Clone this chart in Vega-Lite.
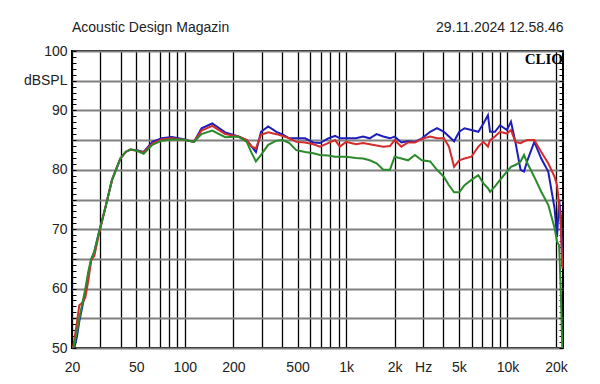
{
  "$schema": "https://vega.github.io/schema/vega-lite/v6.json",
  "autosize": "none",
  "width": 491,
  "height": 297,
  "padding": {"left": 72, "top": 51, "right": 37, "bottom": 36},
  "background": "white",
  "config": {
    "view": {"stroke": "black", "strokeWidth": 2},
    "font": "Liberation Sans"
  },
  "title": {
    "text": "Acoustic Design Magazin",
    "anchor": "start",
    "frame": "group",
    "fontSize": 14,
    "fontWeight": "normal",
    "color": "#222222",
    "font": "Liberation Sans",
    "offset": -15
  },
  "data": {
    "values": [
      {"f": 20.1, "b": 48.5, "r": 49.5, "g": 49.0},
      {"f": 20.6, "b": 49.8, "r": 51.0, "g": 50.5},
      {"f": 21.5, "b": 52.0, "r": 54.5, "g": 52.8},
      {"f": 22.2, "b": 54.5, "r": 57.2, "g": 55.0},
      {"f": 23.2, "b": 57.0, "r": 57.6, "g": 57.6},
      {"f": 24.2, "b": 59.5, "r": 58.5, "g": 60.0},
      {"f": 25.3, "b": 62.5, "r": 61.5, "g": 63.0},
      {"f": 26.3, "b": 64.8, "r": 64.8, "g": 65.0},
      {"f": 27.5, "b": 66.2, "r": 65.5, "g": 66.2},
      {"f": 29.3, "b": 69.3, "r": 69.0, "g": 69.3},
      {"f": 32.3, "b": 73.8, "r": 73.8, "g": 73.8},
      {"f": 35.4, "b": 78.3, "r": 78.3, "g": 78.3},
      {"f": 39.9, "b": 81.9, "r": 81.9, "g": 81.9},
      {"f": 43, "b": 83.0, "r": 83.0, "g": 83.0},
      {"f": 46, "b": 83.4, "r": 83.4, "g": 83.4},
      {"f": 50.6, "b": 83.3, "r": 83.2, "g": 83.2},
      {"f": 55.6, "b": 83.0, "r": 82.9, "g": 82.7},
      {"f": 63, "b": 84.7, "r": 84.4, "g": 84.2},
      {"f": 72, "b": 85.3, "r": 85.1, "g": 84.9},
      {"f": 83, "b": 85.5, "r": 85.3, "g": 85.1},
      {"f": 97, "b": 85.2, "r": 85.1, "g": 85.1},
      {"f": 114, "b": 84.7, "r": 84.7, "g": 84.7},
      {"f": 127, "b": 87.0, "r": 86.6, "g": 86.0},
      {"f": 148, "b": 87.8, "r": 87.4, "g": 86.6},
      {"f": 178, "b": 86.3, "r": 86.0, "g": 85.5},
      {"f": 215, "b": 85.6, "r": 85.6, "g": 85.6},
      {"f": 242, "b": 85.0, "r": 85.0, "g": 84.7},
      {"f": 260, "b": 83.9, "r": 83.9, "g": 82.8},
      {"f": 276, "b": 83.0, "r": 83.6, "g": 81.4},
      {"f": 297, "b": 86.4, "r": 85.9, "g": 82.5},
      {"f": 329, "b": 87.3, "r": 86.3, "g": 84.2},
      {"f": 370, "b": 86.4, "r": 86.0, "g": 84.9},
      {"f": 405, "b": 85.9, "r": 85.7, "g": 85.0},
      {"f": 445, "b": 85.3, "r": 85.3, "g": 84.5},
      {"f": 491, "b": 85.3, "r": 84.7, "g": 83.3},
      {"f": 557, "b": 85.3, "r": 84.6, "g": 83.0},
      {"f": 627, "b": 84.6, "r": 84.3, "g": 82.8},
      {"f": 689, "b": 84.5, "r": 83.9, "g": 82.5},
      {"f": 774, "b": 85.3, "r": 84.5, "g": 82.4},
      {"f": 855, "b": 85.7, "r": 85.0, "g": 82.2},
      {"f": 915, "b": 85.3, "r": 83.9, "g": 82.2},
      {"f": 1000, "b": 85.3, "r": 84.7, "g": 82.2},
      {"f": 1150, "b": 85.3, "r": 84.3, "g": 82.0},
      {"f": 1275, "b": 85.6, "r": 84.5, "g": 81.9},
      {"f": 1400, "b": 85.3, "r": 84.3, "g": 81.6},
      {"f": 1545, "b": 86.0, "r": 84.1, "g": 81.1},
      {"f": 1700, "b": 85.6, "r": 83.9, "g": 80.0},
      {"f": 1870, "b": 85.3, "r": 84.0, "g": 80.0},
      {"f": 2000, "b": 85.6, "r": 85.0, "g": 82.2},
      {"f": 2200, "b": 84.6, "r": 83.9, "g": 81.9},
      {"f": 2420, "b": 84.8, "r": 84.6, "g": 81.6},
      {"f": 2670, "b": 84.7, "r": 84.6, "g": 82.5},
      {"f": 2950, "b": 85.3, "r": 85.2, "g": 81.6},
      {"f": 3320, "b": 86.4, "r": 85.6, "g": 81.4},
      {"f": 3660, "b": 87.0, "r": 85.3, "g": 80.0},
      {"f": 4040, "b": 86.4, "r": 85.3, "g": 78.8},
      {"f": 4340, "b": 85.6, "r": 83.9, "g": 77.4},
      {"f": 4670, "b": 84.8, "r": 80.5, "g": 76.2},
      {"f": 5030, "b": 86.4, "r": 81.6, "g": 76.2},
      {"f": 5420, "b": 87.0, "r": 81.9, "g": 77.4},
      {"f": 5980, "b": 86.7, "r": 82.2, "g": 78.3},
      {"f": 6600, "b": 86.4, "r": 83.9, "g": 79.1},
      {"f": 7100, "b": 87.8, "r": 84.7, "g": 77.7},
      {"f": 7570, "b": 89.2, "r": 83.9, "g": 76.9},
      {"f": 7800, "b": 86.4, "r": 85.0, "g": 76.3},
      {"f": 8370, "b": 86.4, "r": 85.6, "g": 77.2},
      {"f": 9000, "b": 87.5, "r": 86.4, "g": 78.3},
      {"f": 9930, "b": 86.7, "r": 86.1, "g": 79.7},
      {"f": 10520, "b": 88.1, "r": 86.7, "g": 80.5},
      {"f": 11200, "b": 84.7, "r": 84.7, "g": 80.8},
      {"f": 12060, "b": 80.0, "r": 84.5, "g": 81.4},
      {"f": 12670, "b": 79.7, "r": 84.8, "g": 82.5},
      {"f": 13300, "b": 81.6, "r": 85.0, "g": 81.1},
      {"f": 14670, "b": 84.7, "r": 85.0, "g": 78.8},
      {"f": 16200, "b": 81.9, "r": 83.0, "g": 76.3},
      {"f": 17900, "b": 79.7, "r": 81.1, "g": 74.1},
      {"f": 19600, "b": 73.5, "r": 78.8, "g": 70.2},
      {"f": 20300, "b": 68.7, "r": 77.4, "g": 67.9},
      {"f": 20900, "b": 75.0, "r": 74.1, "g": 67.3},
      {"f": 21400, "b": 72.4, "r": 70.7, "g": 60.0},
      {"f": 21900, "b": 64.0, "r": 63.4, "g": 49.5}
    ]
  },
  "layer": [
    {
      "mark": {"type": "line", "strokeOpacity": 0},
      "encoding": {
        "x": {
          "field": "f",
          "type": "quantitative",
          "scale": {"type": "log", "domain": [20, 22100], "nice": false},
          "axis": {
            "title": null,
            "values": [20, 30, 40, 50, 60, 70, 80, 90, 100, 200, 300, 400, 500, 600, 700, 800, 900, 1000, 2000, 3000, 4000, 5000, 6000, 7000, 8000, 9000, 10000, 20000],
            "labelExpr": "datum.value == 20 ? '20' : datum.value == 50 ? '50' : datum.value == 100 ? '100' : datum.value == 200 ? '200' : datum.value == 500 ? '500' : datum.value == 1000 ? '1k' : datum.value == 2000 ? '2k' : datum.value == 3000 ? 'Hz' : datum.value == 5000 ? '5k' : datum.value == 10000 ? '10k' : datum.value == 20000 ? '20k' : ''",
            "labelOverlap": false,
            "labelFlush": false,
            "labelBound": false,
            "labelFontSize": 14,
            "labelColor": "#222222",
            "labelFont": "Liberation Sans",
            "labelPadding": 12,
            "ticks": false,
            "domain": false,
            "grid": true,
            "gridColor": "#000000",
            "gridWidth": 1.3,
            "gridOpacity": 1
          }
        },
        "y": {
          "field": "b",
          "type": "quantitative",
          "scale": {"domain": [50, 100], "nice": false, "zero": false},
          "axis": {
            "title": null,
            "values": [50, 51, 52, 53, 54, 55, 56, 57, 58, 59, 60, 61, 62, 63, 64, 65, 66, 67, 68, 69, 70, 71, 72, 73, 74, 75, 76, 77, 78, 79, 80, 81, 82, 83, 84, 85, 86, 87, 88, 89, 90, 91, 92, 93, 94, 95, 96, 97, 98, 99, 100],
            "labelExpr": "datum.value % 10 === 0 ? datum.value : (datum.value === 95 ? 'dBSPL' : '')",
            "labelOverlap": false,
            "labelFlush": false,
            "labelBound": false,
            "labelFontSize": 14,
            "labelColor": "#222222",
            "labelFont": "Liberation Sans",
            "labelPadding": 9,
            "ticks": true,
            "tickSize": -4,
            "tickColor": "#000000",
            "tickWidth": 1,
            "domain": false,
            "grid": true,
            "gridColor": "#808080",
            "gridWidth": 2,
            "gridOpacity": {"condition": {"test": "datum.value % 5 === 0", "value": 1}, "value": 0}
          }
        }
      }
    },
    {
      "mark": {"type": "line", "strokeOpacity": 0},
      "encoding": {
        "x": {
          "field": "f",
          "type": "quantitative",
          "axis": {
            "orient": "top",
            "title": "29.11.2024 12.58.46",
            "titleAnchor": "end",
            "titleFontSize": 14,
            "titleFontWeight": "normal",
            "titleColor": "#222222",
            "titleFont": "Liberation Sans",
            "titlePadding": 17,
            "labels": false,
            "ticks": false,
            "domain": false,
            "grid": false
          }
        },
        "y": {
          "field": "b",
          "type": "quantitative",
          "axis": {
            "orient": "right",
            "title": null,
            "values": [50, 51, 52, 53, 54, 55, 56, 57, 58, 59, 60, 61, 62, 63, 64, 65, 66, 67, 68, 69, 70, 71, 72, 73, 74, 75, 76, 77, 78, 79, 80, 81, 82, 83, 84, 85, 86, 87, 88, 89, 90, 91, 92, 93, 94, 95, 96, 97, 98, 99, 100],
            "labels": false,
            "ticks": true,
            "tickSize": -4,
            "tickColor": "#000000",
            "tickWidth": 1,
            "domain": false,
            "grid": false
          }
        }
      }
    },
    {
      "transform": [{"fold": ["b", "r", "g"], "as": ["s", "db"]}, {"filter": "datum.s === 'b'"}],
      "mark": {"type": "line", "color": "#1e1eb9", "strokeWidth": 2, "clip": true},
      "encoding": {
        "x": {"field": "f", "type": "quantitative", "axis": null},
        "y": {"field": "db", "type": "quantitative", "axis": null}
      }
    },
    {
      "transform": [{"fold": ["b", "r", "g"], "as": ["s", "db"]}, {"filter": "datum.s === 'r'"}],
      "mark": {"type": "line", "color": "#d42b2b", "strokeWidth": 2, "clip": true},
      "encoding": {
        "x": {"field": "f", "type": "quantitative", "axis": null},
        "y": {"field": "db", "type": "quantitative", "axis": null}
      }
    },
    {
      "transform": [{"fold": ["b", "r", "g"], "as": ["s", "db"]}, {"filter": "datum.s === 'g'"}],
      "mark": {"type": "line", "color": "#2b8a2b", "strokeWidth": 2, "clip": true},
      "encoding": {
        "x": {"field": "f", "type": "quantitative", "axis": null},
        "y": {"field": "db", "type": "quantitative", "axis": null}
      }
    },
    {
      "data": {"values": [{"t": "CLIO"}]},
      "mark": {"type": "text", "align": "right", "baseline": "top", "font": "Liberation Serif", "fontWeight": "bold", "fontSize": 15, "color": "#000000", "dy": 1},
      "encoding": {
        "x": {"datum": 22100, "type": "quantitative", "axis": null},
        "y": {"datum": 100, "type": "quantitative", "axis": null},
        "text": {"field": "t"}
      }
    }
  ],
  "resolve": {"axis": {"x": "independent", "y": "independent"}}
}
